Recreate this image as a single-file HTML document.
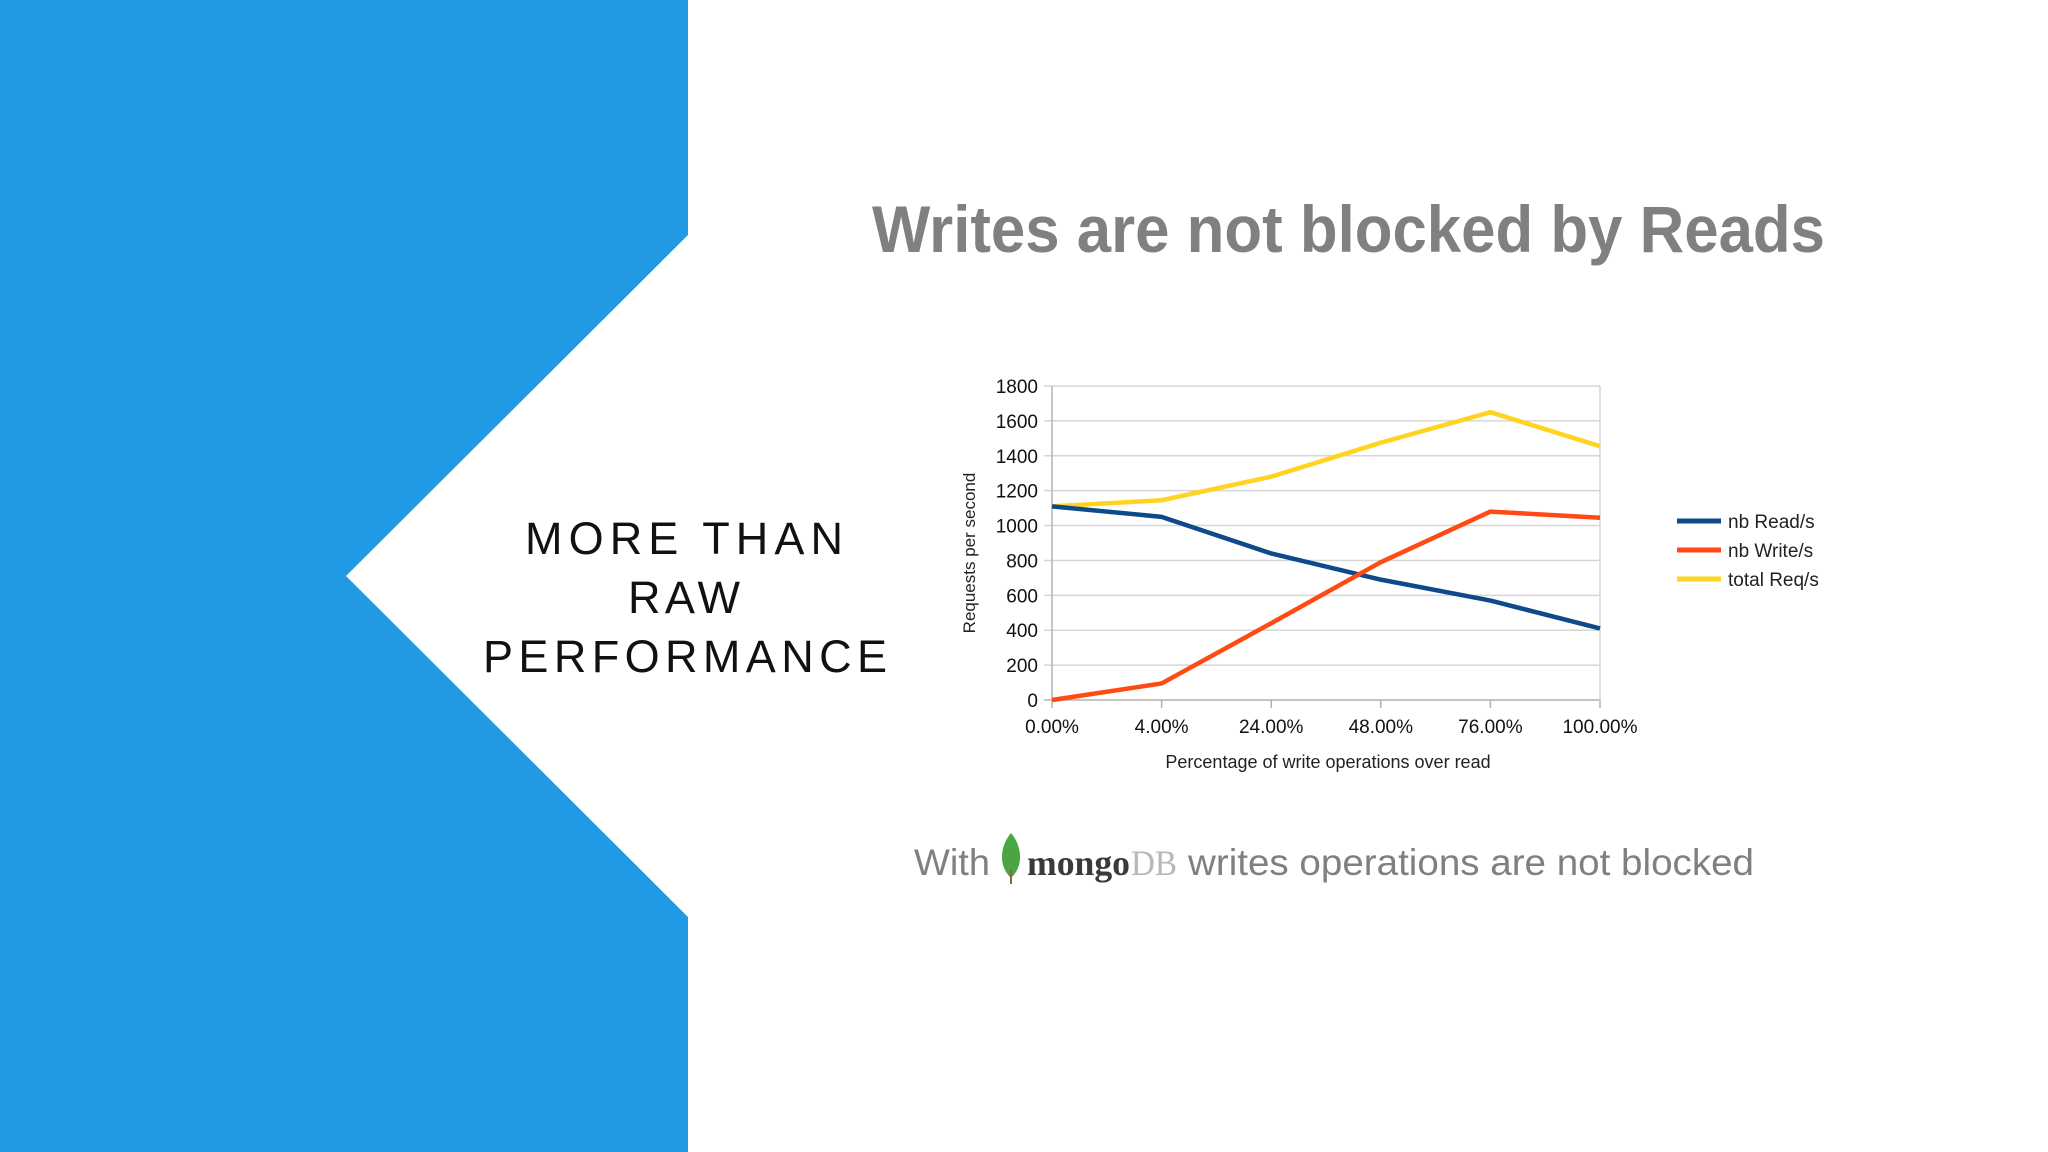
<!DOCTYPE html>
<html><head><meta charset="utf-8"><style>html,body{margin:0;padding:0;background:#fff}svg{display:block}</style></head>
<body>
<svg id="page" width="2048" height="1152" viewBox="0 0 2048 1152" xmlns="http://www.w3.org/2000/svg" font-family="Liberation Sans, sans-serif">
  <rect x="0" y="0" width="2048" height="1152" fill="#ffffff"/>
  <path d="M0 0 H688 V235 L346 576 L688 917 V1152 H0 Z" fill="#2299e3"/>
  <g fill="#111" font-size="45" text-anchor="middle">
    <text x="684" y="554" textLength="318" lengthAdjust="spacing">MORE THAN</text>
    <text x="684" y="613" textLength="112" lengthAdjust="spacing">RAW</text>
    <text x="685" y="672" textLength="404" lengthAdjust="spacing">PERFORMANCE</text>
  </g>
  <text x="872" y="252" font-size="66" font-weight="bold" fill="#808080" textLength="953" lengthAdjust="spacingAndGlyphs">Writes are not blocked by Reads</text>
  <g id="chart"></g>
  <g>
    <text x="914" y="875" font-size="37" fill="#808080" textLength="76" lengthAdjust="spacingAndGlyphs">With</text>
    <path d="M1011 833 C1000 846 998 866 1011 878 C1024 866 1022 846 1011 833 Z" fill="#4aa544"/>
    <line x1="1011" y1="870" x2="1011" y2="884" stroke="#8a6a3a" stroke-width="2"/>
    <text x="1027" y="875" font-family="Liberation Serif, serif" font-weight="bold" font-size="36" fill="#3a3a3a" textLength="103" lengthAdjust="spacingAndGlyphs">mongo</text>
    <text x="1131" y="875" font-family="Liberation Serif, serif" font-size="36" fill="#b8b8b8" textLength="46" lengthAdjust="spacingAndGlyphs">DB</text>
    <text x="1188" y="875" font-size="37" fill="#808080" textLength="566" lengthAdjust="spacingAndGlyphs">writes operations are not blocked</text>
  </g>
</svg>
<script>
const categories = ["0.00%","4.00%","24.00%","48.00%","76.00%","100.00%"];
const readValues = [1110, 1050, 840, 690, 570, 410];
const writeValues = [0, 95, 440, 790, 1080, 1045];
const totalValues = [1110, 1145, 1280, 1475, 1650, 1455];
const yTicks = [0,200,400,600,800,1000,1200,1400,1600,1800];
const seriesNames = ["nb Read/s","nb Write/s","total Req/s"];

const NS = "http://www.w3.org/2000/svg";
const L = 1052, R = 1600, T = 386, B = 700, YMAX = 1800;
const xs = i => L + (R - L) * i / (categories.length - 1);
const ys = v => B - (B - T) * v / YMAX;
const g = document.getElementById('chart');
function mk(tag, attrs, parent) {
  const e = document.createElementNS(NS, tag);
  for (const k in attrs) e.setAttribute(k, attrs[k]);
  (parent || g).appendChild(e);
  return e;
}
yTicks.forEach(t => {
  const ln = mk('line', {x1: L - 8, x2: R, y1: ys(t), y2: ys(t), stroke: t === 0 ? '#b3b3b3' : '#d6d6d6', 'stroke-width': 1.5});
  
  
  const tx = mk('text', {x: L - 14, y: ys(t) + 7, 'font-size': 19, 'text-anchor': 'end', fill: '#111'});
  tx.textContent = t;
  
  
});
const rv = mk('line', {x1: R, x2: R, y1: T, y2: B, stroke: '#d6d6d6', 'stroke-width': 1.5});


const lv = mk('line', {x1: L, x2: L, y1: T, y2: B, stroke: '#b3b3b3', 'stroke-width': 1.5});


categories.forEach((c, i) => {
  const tk = mk('line', {x1: xs(i), x2: xs(i), y1: B, y2: B + 8, stroke: '#b3b3b3', 'stroke-width': 1.5});
  
  
  const tx = mk('text', {x: xs(i), y: B + 33, 'font-size': 19, 'text-anchor': 'middle', fill: '#111'});
  tx.textContent = c;
  
  
});
const xt = mk('text', {x: 1328, y: 768, 'font-size': 18, 'text-anchor': 'middle', fill: '#222'});
xt.textContent = 'Percentage of write operations over read';


const yt = mk('text', {x: 0, y: 0, 'font-size': 17, 'text-anchor': 'middle', fill: '#222', transform: 'translate(975 553) rotate(-90)'});
yt.textContent = 'Requests per second';



const series = [[readValues, '#0e4a8a'], [writeValues, '#ff4a14'], [totalValues, '#ffd320']];
const drawOrder = [2, 0, 1];
drawOrder.forEach(si => {
  const [vals, col] = series[si];
  const pts = vals.map((v, i) => xs(i) + ',' + ys(v)).join(' ');
  const pl = mk('polyline', {points: pts, fill: 'none', stroke: col, 'stroke-width': 4.5, 'stroke-linejoin': 'round'});
  
  
});
seriesNames.forEach((n, i) => {
  const y = 521 + i * 29;
  const ln = mk('line', {x1: 1677, x2: 1721, y1: y, y2: y, stroke: series[i][1], 'stroke-width': 5});
  
  
  const tx = mk('text', {x: 1728, y: y + 7, 'font-size': 19, fill: '#222'});
  tx.textContent = n;
  
  
});
</script>
</body></html>
